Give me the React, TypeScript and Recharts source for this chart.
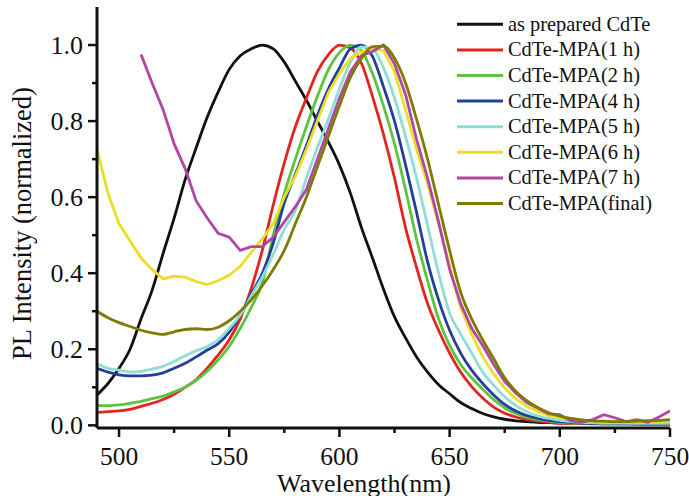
import React from 'react';
import { LineChart, Line, XAxis, YAxis } from 'recharts';

// wavelength grid (nm)
const wavelength = [
  490, 495, 500, 505, 510, 515, 520, 525, 530, 535, 540, 545, 550, 555, 560, 565, 570, 575,
  580, 585, 590, 595, 600, 605, 610, 615, 620, 625, 630, 635, 640, 645, 650, 655, 660, 665,
  670, 675, 680, 685, 690, 695, 700, 705, 710, 715, 720, 725, 730, 735, 740, 745, 750,
];

const asPrepared = [
  0.08, 0.11, 0.15, 0.2, 0.28, 0.355, 0.452, 0.545, 0.646, 0.73, 0.81, 0.877, 0.936, 0.972, 0.99, 1.0, 0.99, 0.955,
  0.905, 0.855, 0.8, 0.745, 0.685, 0.61, 0.52, 0.44, 0.358, 0.285, 0.23, 0.18, 0.14, 0.107, 0.083, 0.06, 0.044, 0.031,
  0.022, 0.016, 0.012, 0.01, 0.008, 0.007, 0.006, 0.005, 0.005, 0.005, 0.004, 0.004, 0.004, 0.004, 0.003, 0.003, 0.003,
];
const mpa1h = [
  0.034, 0.036, 0.038, 0.042, 0.05, 0.058, 0.068, 0.082, 0.1, 0.12, 0.15, 0.185, 0.225, 0.28, 0.36, 0.46, 0.58, 0.69,
  0.785, 0.86, 0.93, 0.975, 1.0, 0.992, 0.952, 0.865, 0.765, 0.65, 0.52, 0.415, 0.32, 0.25, 0.19, 0.14, 0.102, 0.072,
  0.048, 0.032, 0.022, 0.015, 0.011, 0.008, 0.006, 0.005, 0.005, 0.004, 0.004, 0.004, 0.004, 0.003, 0.003, 0.003, 0.003,
];
const mpa2h = [
  0.052, 0.052, 0.054, 0.058, 0.063, 0.07, 0.077, 0.088, 0.1, 0.118, 0.142, 0.172, 0.208, 0.255, 0.31, 0.375, 0.5, 0.61,
  0.7, 0.785, 0.865, 0.935, 0.98, 1.0, 0.985, 0.925, 0.84, 0.74, 0.62, 0.49, 0.38, 0.28, 0.21, 0.16, 0.125, 0.095,
  0.068, 0.046, 0.031, 0.021, 0.015, 0.011, 0.008, 0.006, 0.005, 0.005, 0.004, 0.004, 0.004, 0.004, 0.004, 0.004, 0.004,
];
const mpa4h = [
  0.15, 0.14, 0.133, 0.13, 0.13, 0.132, 0.138, 0.15, 0.163, 0.18, 0.198, 0.215, 0.245, 0.29, 0.345, 0.4, 0.48, 0.585,
  0.66, 0.735, 0.815, 0.885, 0.94, 0.99, 1.0, 0.97, 0.89, 0.8, 0.685, 0.56, 0.43, 0.33, 0.25, 0.19, 0.145, 0.11,
  0.08, 0.055, 0.038, 0.026, 0.018, 0.013, 0.01, 0.008, 0.006, 0.005, 0.005, 0.005, 0.005, 0.004, 0.004, 0.004, 0.004,
];
const mpa5h = [
  0.162, 0.15, 0.145, 0.14, 0.142, 0.148, 0.155, 0.168, 0.183, 0.196, 0.207, 0.225, 0.255, 0.29, 0.34, 0.39, 0.45, 0.515,
  0.565, 0.65, 0.73, 0.805, 0.885, 0.955, 0.995, 0.99, 0.94, 0.86, 0.76, 0.65, 0.525, 0.4, 0.295, 0.24, 0.19, 0.14,
  0.105, 0.075, 0.052, 0.036, 0.025, 0.018, 0.013, 0.01, 0.008, 0.007, 0.006, 0.006, 0.006, 0.005, 0.005, 0.005, 0.005,
];
const mpa6h = [
  0.726, 0.61, 0.53, 0.485, 0.44, 0.41, 0.385, 0.392, 0.39, 0.378, 0.37, 0.38, 0.395, 0.418, 0.455, 0.49, 0.53, 0.6,
  0.655, 0.725, 0.8, 0.875, 0.925, 0.965, 0.982, 0.99, 0.985, 0.93, 0.83, 0.725, 0.635, 0.53, 0.42, 0.31, 0.24, 0.18,
  0.135, 0.098, 0.07, 0.05, 0.036, 0.026, 0.02, 0.016, 0.013, 0.011, 0.01, 0.01, 0.009, 0.009, 0.009, 0.01, 0.012,
];
const mpa7h = [
  null, null, null, null, 0.975, 0.9, 0.83, 0.74, 0.675, 0.59, 0.545, 0.505, 0.495, 0.46, 0.47, 0.47, 0.495, 0.535,
  0.575, 0.62, 0.7, 0.78, 0.86, 0.93, 0.972, 0.983, 1.0, 0.95, 0.87, 0.752, 0.65, 0.535, 0.41, 0.32, 0.255, 0.21,
  0.16, 0.115, 0.085, 0.06, 0.045, 0.03, 0.028, 0.012, 0.008, 0.015, 0.028, 0.02, 0.01, 0.015, 0.008, 0.022, 0.038,
];
const mpaFinal = [
  0.3, 0.283, 0.27, 0.26, 0.25, 0.243, 0.239, 0.246, 0.252, 0.254, 0.252, 0.258, 0.275, 0.3, 0.33, 0.367, 0.41, 0.46,
  0.53, 0.6, 0.68, 0.76, 0.84, 0.915, 0.965, 0.996, 0.997, 0.965, 0.9, 0.805, 0.7, 0.58, 0.46, 0.35, 0.28, 0.225,
  0.175, 0.125, 0.09, 0.065, 0.047, 0.033, 0.024, 0.018, 0.014, 0.012, 0.011, 0.01, 0.01, 0.011, 0.012, 0.013, 0.015,
];

const xTicks = [500, 525, 550, 575, 600, 625, 650, 675, 700, 725, 750];
const yTicks = [0, 0.1, 0.2, 0.3, 0.4, 0.5, 0.6, 0.7, 0.8, 0.9, 1.0];

const series = [
  { key: 'asPrepared', name: 'as prepared CdTe', color: '#111111', values: asPrepared, smooth: true },
  { key: 'mpa1h', name: 'CdTe-MPA(1 h)', color: '#e0261f', values: mpa1h, smooth: true },
  { key: 'mpa2h', name: 'CdTe-MPA(2 h)', color: '#5cc43e', values: mpa2h, smooth: true },
  { key: 'mpa4h', name: 'CdTe-MPA(4 h)', color: '#243f9a', values: mpa4h, smooth: true },
  { key: 'mpa5h', name: 'CdTe-MPA(5 h)', color: '#8fded6', values: mpa5h, smooth: true },
  { key: 'mpa6h', name: 'CdTe-MPA(6 h)', color: '#ebdf26', values: mpa6h, smooth: false },
  { key: 'mpa7h', name: 'CdTe-MPA(7 h)', color: '#b345a5', values: mpa7h, smooth: false },
  { key: 'mpaFinal', name: 'CdTe-MPA(final)', color: '#7e7c00', values: mpaFinal, smooth: true },
];

const data = wavelength.map((w, i) => {
  const row: any = { w };
  series.forEach((s) => {
    row[s.key] = s.values[i];
  });
  return row;
});

const FONT = "'Liberation Serif', 'Times New Roman', serif";
const INK = '#111111';

const XTick = (props: any) => {
  const { x, y, payload } = props;
  const major = payload.value % 50 === 0;
  return (
    <g>
      <line x1={x} x2={x} y1={y} y2={y + (major ? 9 : 5)} stroke={INK} strokeWidth={2.5} />
      {major && (
        <text x={x} y={y + 37} textAnchor="middle" fontSize={25.5} fontFamily={FONT} fill={INK}>
          {payload.value}
        </text>
      )}
    </g>
  );
};

const YTick = (props: any) => {
  const { x, y, payload } = props;
  const major = Math.round(payload.value * 10) % 2 === 0;
  return (
    <g>
      <line x1={x} x2={x - (major ? 9 : 5)} y1={y} y2={y} stroke={INK} strokeWidth={2.5} />
      {major && (
        <text x={x - 14} y={y + 9} textAnchor="end" fontSize={26} fontFamily={FONT} fill={INK}>
          {payload.value.toFixed(1)}
        </text>
      )}
    </g>
  );
};

const axisLine = { stroke: INK, strokeWidth: 3 };

export default function App() {
  return (
    <div style={{ position: 'absolute', left: 0, top: 0, width: 689, height: 496, background: '#fff' }}>
      <LineChart width={689} height={496} data={data} margin={{ top: 7, right: 19, bottom: 0, left: 0 }}>
        <XAxis
          dataKey="w"
          type="number"
          domain={[490, 750]}
          ticks={xTicks}
          interval={0}
          tickSize={0}
          tickMargin={0}
          tick={<XTick />}
          height={68}
          axisLine={axisLine}
          allowDataOverflow
        />
        <XAxis
          xAxisId="top"
          orientation="top"
          dataKey="w"
          type="number"
          domain={[490, 750]}
          tick={false}
          tickLine={false}
          height={0}
          axisLine={axisLine}
        />
        <YAxis
          type="number"
          domain={[-0.007, 1.1]}
          ticks={yTicks}
          interval={0}
          tickSize={0}
          tickMargin={0}
          tick={<YTick />}
          width={97}
          axisLine={axisLine}
          allowDataOverflow
        />
        <YAxis
          yAxisId="right"
          orientation="right"
          type="number"
          domain={[0, 1]}
          tick={false}
          tickLine={false}
          width={0}
          axisLine={axisLine}
        />
        {series.map((s) => (
          <Line
            key={s.key}
            dataKey={s.key}
            stroke={s.color}
            strokeWidth={2.8}
            dot={false}
            type={s.smooth ? 'monotone' : 'linear'}
            isAnimationActive={false}
          />
        ))}
      </LineChart>
      <svg
        width={689}
        height={496}
        style={{ position: 'absolute', left: 0, top: 0, pointerEvents: 'none' }}
      >
        {series.map((s, i) => {
          const cy = 24.3 + i * 25.6;
          return (
            <g key={s.key}>
              <line x1={457} x2={503} y1={cy} y2={cy} stroke={s.color} strokeWidth={3} />
              <text x={508} y={cy + 6.5} fontSize={20.4} fontFamily={FONT} fill={INK}>
                {s.name}
              </text>
            </g>
          );
        })}
        <text x={364} y={492} textAnchor="middle" fontSize={26} fontFamily={FONT} fill={INK}>
          Wavelength(nm)
        </text>
        <text
          transform="translate(31,223.5) rotate(-90)"
          textAnchor="middle"
          fontSize={26.5}
          fontFamily={FONT}
          fill={INK}
        >
          PL Intensity (normalized)
        </text>
      </svg>
    </div>
  );
}
